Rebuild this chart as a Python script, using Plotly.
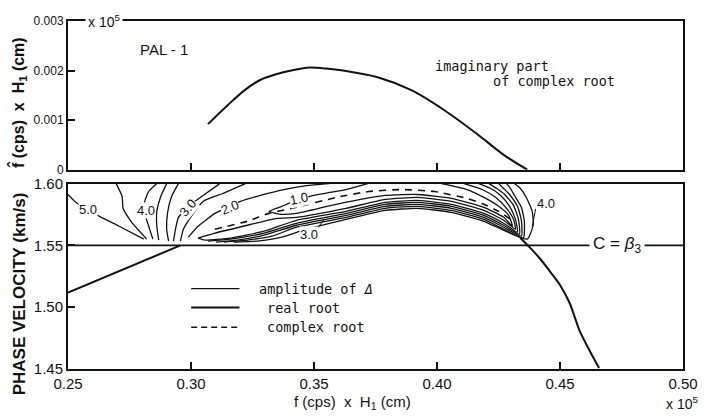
import plotly.graph_objects as go

# ---------------------------------------------------------------
# Upper panel: imaginary part of the complex root (f x H1, x 1e5)
# ---------------------------------------------------------------
imag_f = [0.3069, 0.3149, 0.3217, 0.3281, 0.3349, 0.3417, 0.3481, 0.3550,
          0.3618, 0.3762, 0.3898, 0.4030, 0.4163, 0.4271, 0.4367]
imag_val = [0.00092, 0.00130, 0.00160, 0.00181, 0.00193, 0.00201, 0.00206, 0.00204,
            0.00200, 0.00186, 0.00160, 0.00120, 0.00072, 0.00030, 0.0]

# ---------------------------------------------------------------
# Lower panel: phase velocity (km/s) versus f x H1 (x 1e5)
# ---------------------------------------------------------------
beta3 = 1.55

real_left_f = [0.2500, 0.2957]
real_left_c = [1.5118, 1.5500]

real_right_f = [0.4339, 0.4379, 0.4420, 0.4459, 0.4500, 0.4540, 0.4579, 0.4620, 0.4659]
real_right_c = [1.5560, 1.5480, 1.5390, 1.5290, 1.5180, 1.5030, 1.4813, 1.4650, 1.4508]

complex_f = [0.3097, 0.3229, 0.3317, 0.3429, 0.3590, 0.3722, 0.3858, 0.3990,
             0.4122, 0.4191, 0.4251, 0.4299]
complex_c = [1.5631, 1.5695, 1.5759, 1.5808, 1.5888, 1.5936, 1.5952, 1.5936,
             1.5880, 1.5832, 1.5775, 1.5711]

# contours of the amplitude of Delta -- fan on the low-frequency side
amp_5_0_f = [0.2500, 0.2528, 0.2628, 0.2708, 0.2808]
amp_5_0_c = [1.5912, 1.5856, 1.5735, 1.5655, 1.5551]
amp_4_5_f = [0.2696, 0.2720, 0.2724, 0.2756, 0.2820]
amp_4_5_c = [1.6000, 1.5896, 1.5800, 1.5695, 1.5551]
amp_4_0_f = [0.2861, 0.2828, 0.2812, 0.2812, 0.2828, 0.2845]
amp_4_0_c = [1.6000, 1.5936, 1.5856, 1.5759, 1.5655, 1.5551]
amp_3_7_f = [0.2901, 0.2877, 0.2861, 0.2861, 0.2869]
amp_3_7_c = [1.6000, 1.5896, 1.5775, 1.5655, 1.5543]
amp_3_3_f = [0.2949, 0.2921, 0.2905, 0.2901, 0.2909]
amp_3_3_c = [1.6000, 1.5896, 1.5767, 1.5631, 1.5535]
amp_3_0_f = [0.3117, 0.3049, 0.2989, 0.2949, 0.2937, 0.2929]
amp_3_0_c = [1.6000, 1.5904, 1.5816, 1.5727, 1.5631, 1.5535]
amp_2_5_f = [0.3221, 0.3129, 0.3049, 0.3001, 0.2969, 0.2957]
amp_2_5_c = [1.6000, 1.5920, 1.5856, 1.5735, 1.5631, 1.5535]
amp_2_0_f = [0.3562, 0.3469, 0.3377, 0.3297, 0.3201, 0.3157, 0.3097, 0.3029, 0.2989]
amp_2_0_c = [1.6000, 1.5984, 1.5952, 1.5912, 1.5856, 1.5816, 1.5759, 1.5655, 1.5567]

# contours around the complex root (lower branch, then the high-frequency arm)
amp_1_0_f = [0.3718, 0.3630, 0.3498, 0.3429, 0.3369, 0.3317, 0.3369, 0.3429, 0.3590,
             0.3790, 0.3922, 0.4058, 0.4191, 0.4271, 0.4307, 0.4291, 0.4251, 0.4191,
             0.4122, 0.4018]
amp_1_0_c = [1.6000, 1.5952, 1.5904, 1.5864, 1.5816, 1.5775, 1.5751, 1.5759, 1.5832,
             1.5904, 1.5912, 1.5880, 1.5808, 1.5727, 1.5655, 1.5743, 1.5816, 1.5888,
             1.5952, 1.6000]
ring_a_f = [0.3029, 0.3097, 0.3229, 0.3349, 0.3429, 0.3630, 0.3790, 0.3922, 0.4058,
            0.4191, 0.4271, 0.4319, 0.4311, 0.4283, 0.4239, 0.4183, 0.4110]
ring_a_c = [1.5559, 1.5599, 1.5663, 1.5719, 1.5727, 1.5800, 1.5872, 1.5888, 1.5856,
            1.5783, 1.5703, 1.5631, 1.5711, 1.5800, 1.5888, 1.5952, 1.6000]
ring_b_f = [0.3029, 0.3057, 0.3161, 0.3297, 0.3429, 0.3630, 0.3790, 0.3922, 0.4058,
            0.4191, 0.4271, 0.4327, 0.4319, 0.4295, 0.4259, 0.4219, 0.4170]
ring_b_c = [1.5559, 1.5543, 1.5559, 1.5615, 1.5703, 1.5775, 1.5848, 1.5864, 1.5832,
            1.5759, 1.5679, 1.5607, 1.5711, 1.5816, 1.5904, 1.5960, 1.6000]
ring_c_f = [0.3069, 0.3161, 0.3297, 0.3429, 0.3630, 0.3790, 0.3922, 0.4058, 0.4191,
            0.4271, 0.4335, 0.4331, 0.4311, 0.4275, 0.4243, 0.4211]
ring_c_c = [1.5535, 1.5551, 1.5599, 1.5679, 1.5759, 1.5832, 1.5848, 1.5816, 1.5743,
            1.5663, 1.5591, 1.5711, 1.5824, 1.5912, 1.5960, 1.6000]
ring_d_f = [0.3101, 0.3189, 0.3297, 0.3429, 0.3630, 0.3790, 0.3922, 0.4058, 0.4191,
            0.4271, 0.4343, 0.4343, 0.4327, 0.4295, 0.4271, 0.4251]
ring_d_c = [1.5527, 1.5543, 1.5583, 1.5663, 1.5743, 1.5816, 1.5832, 1.5800, 1.5727,
            1.5647, 1.5575, 1.5703, 1.5816, 1.5912, 1.5960, 1.6000]
ring_e_f = [0.3133, 0.3229, 0.3329, 0.3429, 0.3630, 0.3790, 0.3922, 0.4058, 0.4191,
            0.4271, 0.4351, 0.4355, 0.4343, 0.4315, 0.4299, 0.4283]
ring_e_c = [1.5527, 1.5543, 1.5575, 1.5647, 1.5727, 1.5800, 1.5816, 1.5783, 1.5711,
            1.5631, 1.5559, 1.5695, 1.5808, 1.5904, 1.5960, 1.6000]
ring_f_f = [0.3173, 0.3269, 0.3369, 0.3469, 0.3630, 0.3790, 0.3922, 0.4058, 0.4191,
            0.4279, 0.4367, 0.4391, 0.4387, 0.4363, 0.4339, 0.4315]
ring_f_c = [1.5527, 1.5535, 1.5567, 1.5631, 1.5711, 1.5783, 1.5800, 1.5767, 1.5695,
            1.5615, 1.5551, 1.5663, 1.5775, 1.5888, 1.5960, 1.6000]

contour_lines = [
    (amp_5_0_f, amp_5_0_c), (amp_4_5_f, amp_4_5_c), (amp_4_0_f, amp_4_0_c),
    (amp_3_7_f, amp_3_7_c), (amp_3_3_f, amp_3_3_c), (amp_3_0_f, amp_3_0_c),
    (amp_2_5_f, amp_2_5_c), (amp_2_0_f, amp_2_0_c), (amp_1_0_f, amp_1_0_c),
    (ring_a_f, ring_a_c), (ring_b_f, ring_b_c), (ring_c_f, ring_c_c),
    (ring_d_f, ring_d_c), (ring_e_f, ring_e_c), (ring_f_f, ring_f_c),
]

# contour labels: (text, f, c, angle)
contour_labels = [
    ("5.0", 0.2580, 1.5792, 0), ("4.0", 0.2818, 1.5780, 0),
    ("3.0", 0.2989, 1.5805, -50), ("2.0", 0.3157, 1.5805, -22),
    ("1.0", 0.3441, 1.5878, -12), ("3.0", 0.3478, 1.5588, 0),
    ("4.0", 0.4445, 1.5840, 0),
]
leader_3_0 = ([0.3514, 0.3542], [1.5639, 1.5711])
leader_4_0 = ([0.4401, 0.4387], [1.5795, 1.5650])

x_ticks = [0.25, 0.30, 0.35, 0.40, 0.45, 0.50]
x_ticktext = ["0.25", "0.30", "0.35", "0.40", "0.45", "0.50"]
c_ticks = [1.45, 1.50, 1.55, 1.60]
c_ticktext = ["1.45", "1.50", "1.55", "1.60"]
i_ticks = [0, 0.001, 0.002, 0.003]
i_ticktext = ["0", "0.001", "0.002", "0.003"]

FONT = "Liberation Sans"
MONO = "DejaVu Sans Mono"
INK = "#111111"

# plot-area geometry in pixels (used to place free text)
L, R, T, B, W, H = 68, 18, 18, 48, 710, 417
PW, PH = W - L - R, H - T - B


def px_x(p):
    return (p - L) / PW


def px_y(p):
    return (H - B - p) / PH


fig = go.Figure()

fig.add_trace(go.Scatter(x=imag_f, y=imag_val, xaxis="x2", yaxis="y2", mode="lines",
                         line=dict(color=INK, width=2, shape="spline", smoothing=0.8),
                         hoverinfo="skip"))

for cf, cc in contour_lines:
    fig.add_trace(go.Scatter(x=cf, y=cc, mode="lines",
                             line=dict(color=INK, width=1.3, shape="spline", smoothing=0.5),
                             hoverinfo="skip"))

fig.add_trace(go.Scatter(x=complex_f, y=complex_c, mode="lines",
                         line=dict(color=INK, width=1.6, dash="7px,6px", shape="spline",
                                   smoothing=0.5),
                         hoverinfo="skip"))
fig.add_trace(go.Scatter(x=[x_ticks[0], x_ticks[-1]], y=[beta3, beta3], mode="lines",
                         line=dict(color=INK, width=1.8), hoverinfo="skip"))
fig.add_trace(go.Scatter(x=real_left_f, y=real_left_c, mode="lines",
                         line=dict(color=INK, width=2), hoverinfo="skip"))
fig.add_trace(go.Scatter(x=real_right_f, y=real_right_c, mode="lines",
                         line=dict(color=INK, width=2, shape="spline", smoothing=0.6),
                         hoverinfo="skip"))
for lf, lc in (leader_3_0, leader_4_0):
    fig.add_trace(go.Scatter(x=lf, y=lc, mode="lines", line=dict(color=INK, width=1),
                             hoverinfo="skip"))

axis_common = dict(showline=True, linewidth=2, linecolor=INK, mirror=True,
                   showgrid=False, zeroline=False, ticks="inside", ticklen=7,
                   tickwidth=1.5, tickcolor=INK)


def note(x, y, text, size, family=FONT, xanchor="center", angle=0, bg=None, pad=1,
         ref="paper"):
    d = dict(x=x, y=y, xref="x" if ref == "data" else "paper",
             yref="y" if ref == "data" else "paper", text=text, showarrow=False,
             xanchor=xanchor, yanchor="middle", textangle=angle, borderpad=pad,
             font=dict(family=family, size=size, color=INK))
    if bg:
        d["bgcolor"] = bg
    return d


annotations = [note(lf, lc, text, 13, angle=ang, bg="white", pad=0, ref="data")
               for text, lf, lc, ang in contour_labels]

annotations += [
    note(px_x(105), px_y(18), "x 10<sup>5</sup>", 14, bg="white", pad=2),
    note(px_x(691), px_y(403), "x 10<sup>5</sup>", 14),
    note(px_x(165), px_y(47), "PAL - 1", 15),
    note(px_x(438), px_y(63), "imaginary part", 13.5, family=MONO, xanchor="left"),
    note(px_x(497), px_y(79), "of complex root", 13.5, family=MONO, xanchor="left"),
    note(px_x(625), px_y(244), "C = <i>β</i><sub>3</sub>", 17, bg="white", pad=3),
    note(px_x(357), px_y(403), "f (cps)  x  H<sub>1</sub> (cm)", 15),
    note(px_x(17), px_y(100), "<b>f\u0302 (cps)  x  H<sub>1</sub> (cm)</b>", 16, angle=-90),
    note(px_x(19), px_y(293), "<b>PHASE VELOCITY (km/s)</b>", 17, angle=-90),
    note(px_x(260), px_y(288), "amplitude of <i>Δ</i>", 13.5, family=MONO, xanchor="left"),
    note(px_x(268), px_y(307), "real root", 13.5, family=MONO, xanchor="left"),
    note(px_x(268), px_y(327), "complex root", 13.5, family=MONO, xanchor="left"),
]

shapes = [
    dict(type="line", xref="paper", yref="paper", x0=px_x(193), x1=px_x(242),
         y0=px_y(288), y1=px_y(288), line=dict(color=INK, width=1.3)),
    dict(type="line", xref="paper", yref="paper", x0=px_x(193), x1=px_x(242),
         y0=px_y(307), y1=px_y(307), line=dict(color=INK, width=2)),
    dict(type="line", xref="paper", yref="paper", x0=px_x(193), x1=px_x(242),
         y0=px_y(327), y1=px_y(327), line=dict(color=INK, width=1.5, dash="6px,4px")),
]

fig.update_layout(
    width=W, height=H, margin=dict(l=L, r=R, t=T, b=B),
    paper_bgcolor="white", plot_bgcolor="white", showlegend=False,
    font=dict(family=FONT, color=INK),
    xaxis=dict(domain=[0, 1], anchor="y", range=[0.25, 0.50], tickvals=x_ticks,
               ticktext=x_ticktext, tickfont=dict(size=15), **axis_common),
    yaxis=dict(domain=[0, px_y(182)], anchor="x", range=[1.45, 1.60], tickvals=c_ticks,
               ticktext=c_ticktext, tickfont=dict(size=15), **axis_common),
    xaxis2=dict(domain=[0, 1], anchor="y2", matches="x", range=[0.25, 0.50],
                tickvals=x_ticks[1:-1], showticklabels=False, **axis_common),
    yaxis2=dict(domain=[px_y(168), 1], anchor="x2", range=[0, 0.003], tickvals=i_ticks,
                ticktext=i_ticktext, tickfont=dict(size=12), **axis_common),
    annotations=annotations, shapes=shapes,
)

fig.write_html("out.html")
